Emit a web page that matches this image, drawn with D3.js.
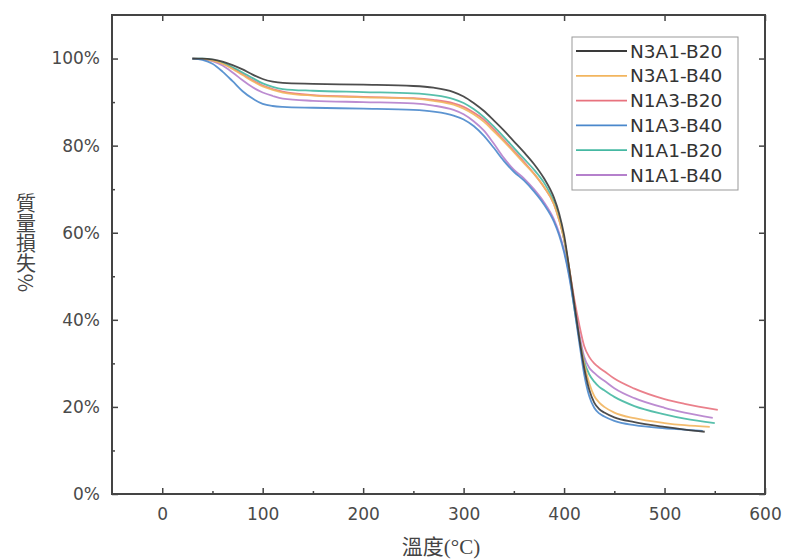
<!DOCTYPE html>
<html><head><meta charset="utf-8">
<script src="https://cdn.jsdelivr.net/npm/d3@7"></script>
<style>body{margin:0;background:#fff}svg{display:block}</style>
</head><body>
<svg id="c" width="785" height="560"></svg>
<script>
const seriesNames = ["N3A1-B20","N3A1-B40","N1A3-B20","N1A3-B40","N1A1-B20","N1A1-B40"];
const seriesColors = ["#3a3a3a","#f2b55e","#e8727e","#4a88cc","#45b8a2","#b580cc"];
const tempBase = [30,40,50,60,70,80,90,100,110,120,150,200,250,270,290,300,310,320,330,340,350,360,370,380,390,395,400,405,410,415,420,425,430,435,440,450,470,500,520];
const tempEnd = [540,545,553,538,550,548];
const massN3A1B20 = [100,100,99.8,99.3,98.5,97.5,96.3,95.3,94.7,94.4,94.2,94.0,93.7,93.3,92.3,91.3,89.8,88.0,85.8,83.5,81.0,78.5,75.8,72.5,68,64.5,59.5,52,44,36,29,24,21,19.5,18.7,17.6,16.5,15.4,14.8,14.3];
const massN3A1B40 = [100,99.9,99.5,98.8,97.6,96.2,94.8,93.6,92.8,92.2,91.5,91.1,90.8,90.3,89.4,88.5,87.2,85.5,83.3,81,78.5,76,73.5,70.5,66.5,63,58.5,52,44,36,30,25.5,22.5,21,20,18.7,17.4,16.3,15.8,15.4];
const massN1A3B20 = [100,99.9,99.6,98.9,97.8,96.4,95,93.8,93,92.4,91.6,91.2,90.9,90.5,89.7,88.9,87.6,86,83.8,81.3,78.8,76.3,73.6,70.5,66.5,63,58.5,52,45,39,34,31.5,30,29,28.2,26.5,24.2,21.8,20.7,19.3];
const massN1A3B40 = [100,99.7,98.8,97,94.8,92.5,90.8,89.6,89.1,88.9,88.7,88.5,88.2,87.8,86.9,86,84.5,82.3,79.5,76.5,74,72,69.5,66.5,62.5,59.5,55.5,50,43,35,27.5,22.5,19.8,18.5,17.8,16.8,15.8,15.1,14.8,14.5];
const massN1A1B20 = [100,100,99.7,99,98,96.8,95.5,94.3,93.5,93,92.6,92.3,92,91.6,90.7,89.8,88.4,86.6,84.4,82,79.5,77,74.5,71.5,67,63.5,58.5,51.5,43,36,30.5,27.5,25.8,24.6,23.8,22.3,20.2,18.3,17.3,16.3];
const massN1A1B40 = [100,99.9,99.4,98.4,96.8,95,93.4,92.2,91.4,90.8,90.3,90,89.7,89.2,88.2,87.2,85.6,83.5,80.5,77.2,74.5,72.5,70,67,63,60,56,50.5,43.5,37,31.5,29,27.8,26.8,26,24.3,22,19.8,18.7,17.5];
const massSeries = [massN3A1B20,massN3A1B40,massN1A3B20,massN1A3B40,massN1A1B20,massN1A1B40];
const xTicks = [0,100,200,300,400,500,600];
const yTicks = [0,20,40,60,80,100];

const svg = d3.select("#c");
const L=112, R=765, T=15, B=494;
const x = d3.scaleLinear().domain([-50,600]).range([L,R]);
const y = d3.scaleLinear().domain([0,110]).range([B,T]);
const axisColor = "#444";
const tickFont = "'DejaVu Sans', sans-serif";

// curves
const line = d3.line().x(d=>x(d[0])).y(d=>y(d[1])).curve(d3.curveMonotoneX);
const order = [2,5,4,1,3,0];
order.forEach(i=>{
  const temps = tempBase.concat([tempEnd[i]]);
  const pts = temps.map((t,k)=>[t, massSeries[i][k]]);
  svg.append("path").attr("d", line(pts)).attr("fill","none")
    .attr("stroke", seriesColors[i]).attr("stroke-width", 1.8).attr("opacity",0.9);
});

// axes
const gB = svg.append("g").attr("transform",`translate(0,${B})`)
  .call(d3.axisBottom(x).tickValues(xTicks).tickSize(-6).tickPadding(14).tickFormat(d3.format("d")));
const gBm = svg.append("g").attr("transform",`translate(0,${B})`)
  .call(d3.axisBottom(x).tickValues(d3.range(50,600,100)).tickSize(-3).tickFormat(""));
const gT = svg.append("g").attr("transform",`translate(0,${T})`)
  .call(d3.axisTop(x).tickValues(xTicks).tickSize(-6).tickFormat(""));
const gL = svg.append("g").attr("transform",`translate(${L},0)`)
  .call(d3.axisLeft(y).tickValues(yTicks).tickSize(-6).tickPadding(12).tickFormat(d=>d+"%"));
const gLm = svg.append("g").attr("transform",`translate(${L},0)`)
  .call(d3.axisLeft(y).tickValues(d3.range(10,110,20)).tickSize(-3).tickFormat(""));
const gR = svg.append("g").attr("transform",`translate(${R},0)`)
  .call(d3.axisRight(y).tickValues(yTicks).tickSize(-6).tickFormat(""));
[gB,gBm,gT,gL,gLm,gR].forEach(g=>{
  g.select(".domain").remove();
  g.selectAll(".tick line").attr("stroke",axisColor).attr("stroke-width",1.5);
  g.selectAll(".tick text").attr("fill","#4a4a4a").style("font-family",tickFont).style("font-size","17px");
});
svg.append("rect").attr("x",L).attr("y",T).attr("width",R-L).attr("height",B-T)
  .attr("fill","none").attr("stroke",axisColor).attr("stroke-width",2);

// axis titles
svg.append("text").attr("x",441).attr("y",554).attr("text-anchor","middle")
  .attr("fill","#444").style("font-size","21px")
  .style("font-family","'Liberation Serif','Noto Sans CJK TC',serif")
  .text("溫度(°C)");
svg.append("text").attr("x",26).attr("y",243).attr("text-anchor","middle")
  .attr("fill","#444").style("font-size","20px")
  .style("font-family","'Noto Sans CJK TC',sans-serif")
  .style("writing-mode","vertical-rl").style("text-orientation","mixed")
  .text("質量損失%");

// legend
const lg = svg.append("g");
lg.append("rect").attr("x",572).attr("y",37).attr("width",166).attr("height",153)
  .attr("fill","#fff").attr("stroke","#999").attr("stroke-width",1);
seriesNames.forEach((n,i)=>{
  const yy = 51 + i*24.8;
  lg.append("line").attr("x1",576).attr("x2",627).attr("y1",yy).attr("y2",yy)
    .attr("stroke",seriesColors[i]).attr("stroke-width",1.8);
  lg.append("text").attr("x",630).attr("y",yy).attr("dy","0.36em")
    .attr("fill","#333").style("font-family",tickFont).style("font-size","18.5px").text(n);
});
</script>
</body></html>
